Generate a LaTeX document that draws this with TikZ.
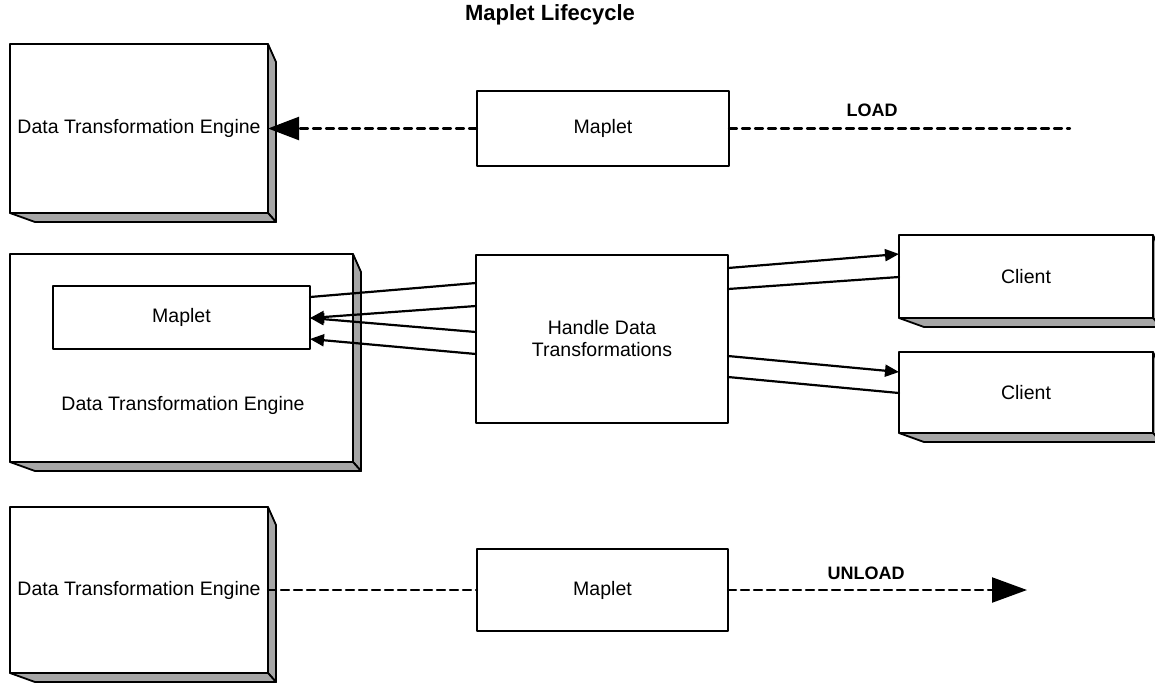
\documentclass[tikz,border=0pt]{standalone}
\usepackage{fontspec}
\setmainfont{Liberation Sans}
\usetikzlibrary{arrows.meta}

% grey side walls under and right of a box
\newcommand{\extrude}[1]{%
  \filldraw[sidewall] (#1.north east) -- ++(8,18) -- ([shift={(8,9)}]#1.south east) -- (#1.south east) -- cycle;
  \filldraw[sidewall] (#1.south west) -- ++(25,9) -- ([shift={(8,9)}]#1.south east) -- (#1.south east) -- cycle;}

\begin{document}
\begin{tikzpicture}[line cap=round,line join=round,x=1pt,y=-1pt,
    box/.style={draw,line width=2.2pt,fill=white,outer sep=0pt,font=\fontsize{19.5}{22}\selectfont},
    sidewall/.style={draw,line width=1.8pt,fill=black!35},
    link/.style={line width=2.2pt},
    toarr/.style={-{Triangle[length=14pt,width=12pt]}},
    loadline/.style={line width=2.2pt,dash pattern=on 8pt off 5pt},
    tag/.style={font=\fontsize{18}{22}\selectfont\bfseries}]
  \useasboundingbox (0,0) rectangle (1155,683);

  \node[font=\fontsize{22}{26}\selectfont\bfseries] (title) at (550,15) {Maplet Lifecycle};

  % load
  \node[box,minimum width=258pt,minimum height=169pt] (dteTop) at (139,128.5) {Data Transformation Engine};
  \node[box,minimum width=252pt,minimum height=75pt] (mapletTop) at (603,128.5) {Maplet};
  \node[tag] (load) at (872,110) {LOAD};
  \coordinate (loadEnd) at (1070,128.5);

  % handle data
  \node[box,minimum width=343pt,minimum height=208pt] (dteMid) at (181.5,358) {};
  \node[box,minimum width=257pt,minimum height=63pt] (mapletMid) at (181.5,317.5) {Maplet};
  \node[font=\fontsize{19.5}{22}\selectfont] (dteMidText) at (183,405) {Data Transformation Engine};
  \node[box,minimum width=252pt,minimum height=168pt,align=center] (handle) at (602,339) {Handle Data\\Transformations};
  \node[box,minimum width=254pt,minimum height=83pt] (clientA) at (1026,276.5) {Client};
  \node[box,minimum width=254pt,minimum height=81pt] (clientB) at (1026,392.5) {Client};

  % unload
  \node[box,minimum width=258pt,minimum height=166pt] (dteBot) at (139,590) {Data Transformation Engine};
  \node[box,minimum width=251pt,minimum height=82pt] (mapletBot) at (602.5,590) {Maplet};
  \node[tag] (unload) at (866,573) {UNLOAD};
  \coordinate (unloadEnd) at (1027,590);

  \foreach \n in {dteTop,dteMid,dteBot,clientA,clientB}
    \extrude{\n};

  % dashed lines
  \draw[loadline,-{Triangle[length=31pt,width=23pt]}] (mapletTop) -- (dteTop);
  \draw[loadline] (mapletTop) -- (loadEnd);
  \draw[loadline] (dteBot) -- (mapletBot);
  \draw[loadline,-{Triangle[length=35pt,width=25pt]}] (mapletBot) -- (unloadEnd);

  % handle <-> maplet
  \draw[link] (handle.west |- 0,283) -- (mapletMid.east |- 0,297);
  \draw[link,toarr] (handle.west |- 0,306) -- (mapletMid.east |- 0,318);
  \draw[link,toarr] (handle.west |- 0,332) -- (mapletMid.east |- 0,318);
  \draw[link,toarr] (handle.west |- 0,354) -- (mapletMid.east |- 0,339);

  % handle <-> clients
  \draw[link,toarr] (handle.east |- 0,268) -- (clientA.west |- 0,254);
  \draw[link] (handle.east |- 0,289) -- (clientA.west |- 0,277);
  \draw[link,toarr] (handle.east |- 0,356) -- (clientB.west |- 0,372);
  \draw[link] (handle.east |- 0,377) -- (clientB.west |- 0,393);
\end{tikzpicture}
\end{document}
